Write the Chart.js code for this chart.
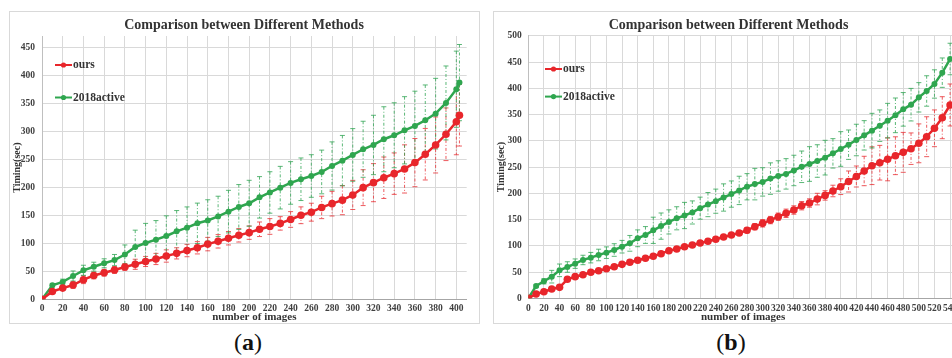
<!DOCTYPE html>
<html>
<head>
<meta charset="utf-8">
<script src="https://cdn.jsdelivr.net/npm/chart.js@4/dist/chart.umd.min.js"></script>
<style>
  html, body { margin:0; padding:0; background:#fff; }
  body { width:952px; height:358px; overflow:hidden; position:relative; }
  .box { position:absolute; box-sizing:border-box; border:1px solid #d9d9d9; }
  canvas { position:absolute; }
  .lbl { position:absolute; width:100px; text-align:center; font-family:"Liberation Serif", serif; font-size:24px; line-height:30px; color:#111; }
</style>
</head>
<body>
<div class="box" style="left:9px;top:11px;width:471px;height:313px"></div>
<div class="box" style="left:493px;top:11px;width:480px;height:313px"></div>
<canvas id="cA" width="468" height="311" style="left:10px;top:12px"></canvas>
<canvas id="cB" width="469" height="311" style="left:494px;top:12px"></canvas>
<div class="lbl" style="left:198px;top:327px">(<b>a</b>)</div>
<div class="lbl" style="left:681px;top:327px">(<b>b</b>)</div>
<script>
// ---------------- texts ----------------
const titleText = 'Comparison between Different Methods';
const seriesNames = ['ours', '2018active'];
const xAxisTitle = 'number of images';
const yAxisTitle = 'Timing(sec)';

// ---------------- data: chart (a) ----------------
const xA = [0,10,20,30,40,50,60,70,80,90,100,110,120,130,140,150,160,170,180,190,200,
            210,220,230,240,250,260,270,280,290,300,310,320,330,340,350,360,370,380,390,400,403];
const oursA = [0,14,20,25.5,35,42.5,47.5,52.3,57.7,62.5,67.5,72,77.3,82,87,92,98.5,103.5,109,114.2,119,
               125,130,135.5,142.5,150,155.5,164,170.7,177,186.3,199.3,208.2,217,224.3,232.7,244,259,275.5,294.6,317,328.6];
const activeA = [0,25,31,41.6,51.8,58.2,64.3,70,80,93.4,100.5,106.5,113,121.4,127.9,135.7,140.7,148,156.5,164.8,171.4,
                 182,190.7,199.3,207.7,214.3,220.1,227.3,238,247.5,257.7,267.8,275.5,285.7,292.8,301.7,309.5,319.6,331.4,350.5,375,386.8];
const oursErrA = [0,2,3,6,7,6,6,6,6,9,9,10,11,10,11,11,12,12,12,12,12,
                  13,14,12,14,15,16,20,22,26,26,32,34,37,37,43,43,46,50,47,59,55];
const activeErrA = [0,3,5,9,9,8,8,10,17,30,35,34,36,37,37,36,37,36,38,40,41,
                    37,37,38,38,38,38,39,43,45,47,50,53,58,58,60,62,63,63,66,68,68];
const xTicksA = [0,20,40,60,80,100,120,140,160,180,200,220,240,260,280,300,320,340,360,380,400];
const yTicksA = [0,50,100,150,200,250,300,350,400,450];

// ---------------- data: chart (b) ----------------
const xB = [0,10,20,30,40,50,60,70,80,90,100,110,120,130,140,150,160,170,180,190,200,
            210,220,230,240,250,260,270,280,290,300,310,320,330,340,350,360,370,380,390,400,
            410,420,430,440,450,460,470,480,490,500,510,520,530,540];
const oursB = [0,8.2,12.6,17.7,20.9,36.2,41.2,45,49.5,52.6,56.4,60.2,64.7,68.6,72.4,76.2,80,85,90.7,93.9,98.3,
               101.5,105.3,108.6,112.4,116.8,120.6,124.4,129.5,136.4,142.8,149,155.4,161.9,168.2,176.4,181.5,189,196,204.4,212.6,
               222.5,232,242.5,252.6,258.3,264.8,271.6,278,285,295.2,307.8,323.8,344,368.2];
const activeB = [0,23.4,32.4,41.2,53.3,59.6,66,73,77.4,82.5,86.9,92,98.3,104.7,114.3,120.6,129.5,137.5,145.5,152.4,157.7,
                 163.5,171.7,178.5,185,192,198.5,205.5,212.5,217.5,221.7,228,233,237,243.5,250.5,255.8,261.5,267.9,276.1,284.4,
                 292.6,301.5,310.4,319.3,328.8,338.3,348.5,359.9,368.8,382.8,394.9,408.2,429.8,455.8];
const oursErrB = [0,2,3,3,4,4,4,4,4,4,4,4,4,4,4,4,4,4,4,4,4,
                  4,4,4,4,4,4,4,5,6,7,7,7,8,8,8,8,11,9,11,15,
                  20,20,28,36,33,41,36,38,30,37,38,35,40,40];
const activeErrB = [0,3,5,12,12,10,9,9,10,11,11,12,12,15,16,16,25,25,23,22,25,
                    22,21,23,23,26,25,27,25,30,27,30,29,29,29,30,33,31,33,28,33,
                    28,30,28,33,30,33,33,32,31,28,29,27,28,30];
const xTicksB = [0,20,40,60,80,100,120,140,160,180,200,220,240,260,280,300,320,340,360,380,400,
                 420,440,460,480,500,520,540];
const yTicksB = [0,50,100,150,200,250,300,350,400,450,500];

// ---------------- drawing ----------------
const FONT = '"Liberation Serif", "Times New Roman", serif';
const TXT = '#404040';
const RED = '#e8262b';
const GREEN = '#2fa64f';

const errorBarPlugin = {
  id: 'errorBars',
  beforeDatasetsDraw(chart) {
    const ctx = chart.ctx, xs = chart.scales.x, ys = chart.scales.y;
    chart.data.datasets.forEach(ds => {
      if (!ds.errors) return;
      ctx.save();
      ctx.strokeStyle = ds.errorColor;
      ctx.lineWidth = 1;
      ds.data.forEach((p, j) => {
        const e = ds.errors[j];
        if (!e) return;
        const px = xs.getPixelForValue(p.x);
        const top = ys.getPixelForValue(p.y + e);
        const bot = ys.getPixelForValue(p.y - e);
        ctx.setLineDash([3, 2, 1, 2]);
        ctx.beginPath(); ctx.moveTo(px, top); ctx.lineTo(px, bot); ctx.stroke();
        ctx.setLineDash([]);
        ctx.beginPath();
        ctx.moveTo(px - 2.5, top); ctx.lineTo(px + 2.5, top);
        ctx.moveTo(px - 2.5, bot); ctx.lineTo(px + 2.5, bot);
        ctx.stroke();
      });
      ctx.restore();
    });
  }
};

const decorPlugin = {
  id: 'decor',
  afterDraw(chart, args, opts) {
    const ctx = chart.ctx, area = chart.chartArea;
    ctx.save();
    ctx.fillStyle = '#333';
    ctx.font = 'bold 14px ' + FONT;
    ctx.textAlign = 'center';
    ctx.textBaseline = 'middle';
    ctx.fillText(opts.title, chart.width / 2, opts.titleY);
    ctx.font = 'bold 11.5px ' + FONT;
    ctx.textAlign = 'left';
    chart.data.datasets.forEach((ds, i) => {
      const lx = area.left + opts.legX;
      const ly = area.top + opts.legY + i * opts.legDY;
      ctx.strokeStyle = ds.borderColor;
      ctx.lineWidth = 2;
      ctx.beginPath(); ctx.moveTo(lx, ly); ctx.lineTo(lx + 17, ly); ctx.stroke();
      ctx.fillStyle = ds.borderColor;
      ctx.beginPath(); ctx.arc(lx + 8.5, ly, 2.6, 0, Math.PI * 2); ctx.fill();
      ctx.fillStyle = '#333';
      ctx.fillText(ds.label, lx + 18, ly + 0.5);
    });
    ctx.restore();
  }
};

function useTicks(list) {
  return scale => { scale.ticks = list.map(v => ({ value: v })); };
}

function makeChart(id, xs, ours, oursErr, active, activeErr, xTicks, yTicks, opt) {
  const toPts = (vals) => vals.map((v, i) => ({x: xs[i], y: v}));
  return new Chart(document.getElementById(id), {
    type: 'line',
    data: {
      datasets: [
        { label: seriesNames[0], data: toPts(ours), errors: oursErr, errorColor: 'rgba(232,50,55,0.8)',
          borderColor: RED, backgroundColor: RED, borderWidth: 2.5, pointRadius: 3.8, pointBorderWidth: 0,
          pointBackgroundColor: RED, tension: 0, order: 1 },
        { label: seriesNames[1], data: toPts(active), errors: activeErr, errorColor: 'rgba(50,165,85,0.8)',
          borderColor: GREEN, backgroundColor: GREEN, borderWidth: 2.5, pointRadius: 3, pointBorderWidth: 0,
          pointBackgroundColor: GREEN, tension: 0, order: 2 }
      ]
    },
    options: {
      responsive: false, animation: false, devicePixelRatio: 1,
      layout: { padding: { top: opt.padTop, right: opt.padRight, left: 0, bottom: 0 } },
      plugins: {
        legend: { display: false }, title: { display: false }, tooltip: { enabled: false },
        decor: { title: titleText, titleY: opt.titleY, legX: opt.legX, legY: opt.legY, legDY: opt.legDY }
      },
      scales: {
        x: {
          type: 'linear', min: 0, max: opt.xMax,
          afterBuildTicks: useTicks(xTicks),
          afterFit: s => { s.height = opt.xH; },
          ticks: { autoSkip: false, maxRotation: 0, padding: opt.xTickPad, color: TXT,
                   font: { family: FONT, size: 9.5, weight: 'bold' } },
          grid: { color: '#d9d9d9', drawTicks: false, lineWidth: 1 },
          border: { color: '#a6a6a6', width: 1 },
          title: { display: true, text: xAxisTitle, color: '#333', padding: { top: 0, bottom: opt.xTitlePad },
                   font: { family: FONT, size: 11, weight: 'bold', lineHeight: 1.1 } }
        },
        y: {
          min: 0, max: opt.yMax,
          afterBuildTicks: useTicks(yTicks),
          afterFit: s => { s.width = opt.yW; },
          ticks: { padding: opt.yTickPad, color: TXT, font: { family: FONT, size: 9.5, weight: 'bold' } },
          grid: { color: '#d9d9d9', drawTicks: false, lineWidth: 1 },
          border: { color: '#bfbfbf', width: 1 },
          title: { display: true, text: yAxisTitle, color: '#333', padding: { top: opt.yTitlePad, bottom: 0 },
                   font: { family: FONT, size: 10, weight: 'bold', lineHeight: 1.2 } }
        }
      }
    },
    plugins: [errorBarPlugin, decorPlugin]
  });
}

makeChart('cA', xA, oursA, oursErrA, activeA, activeErrA, xTicksA, yTicksA, {
  padTop: 24, padRight: 11.3, xMax: 410, yMax: 470, xH: 23.7, yW: 32,
  xTickPad: 3.3, xTitlePad: 0, yTickPad: 7, yTitlePad: 1, titleY: 13.5,
  legX: 13, legY: 29, legDY: 32.5
});
makeChart('cB', xB, oursB, oursErrB, activeB, activeErrB, xTicksB, yTicksB, {
  padTop: 23.8, padRight: 5.1, xMax: 550, yMax: 500, xH: 24.7, yW: 34.3,
  xTickPad: 4.3, xTitlePad: 0, yTickPad: 6.6, yTitlePad: 1.5, titleY: 13,
  legX: 16.7, legY: 33.2, legDY: 27.6
});
</script>
</body>
</html>
